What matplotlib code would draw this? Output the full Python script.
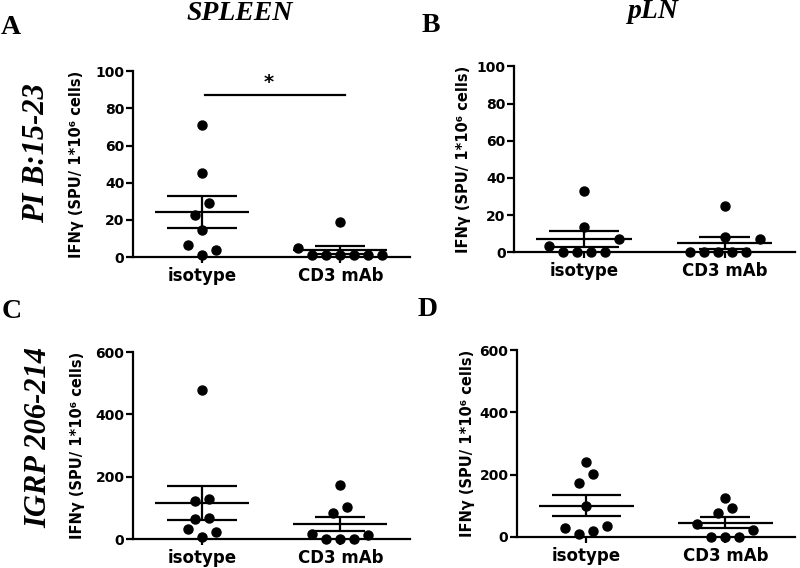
"""
    IFN-gamma ELISPOT scatter plots (mean +/- SEM), spleen vs pLN
"""
import matplotlib
matplotlib.use('Agg')
import matplotlib.pyplot as plt
import numpy as np

groups = ['isotype', 'CD3 mAb']

# PI B:15-23
spleen_pi_iso = [71, 45, 29, 22.5, 14.5, 6.5, 4, 1]
spleen_pi_cd3 = [19, 5, 1, 1, 1, 1, 1, 1]
pln_pi_iso = [33, 13.5, 7, 3.5, 0, 0, 0, 0]
pln_pi_cd3 = [25, 8, 7, 0, 0, 0, 0, 0]

# IGRP 206-214
spleen_igrp_iso = [478, 127, 122, 69, 65, 33, 24, 6]
spleen_igrp_cd3 = [175, 103, 85, 17, 14, 0, 0, 0]
pln_igrp_iso = [241, 202, 174, 99, 34, 30, 19, 9]
pln_igrp_cd3 = [125, 94, 78, 43, 24, 0, 0, 0]

pi_ticks = [0, 20, 40, 60, 80, 100]
igrp_ticks = [0, 200, 400, 600]

ylabel = 'IFNγ (SPU/ 1*10⁶ cells)'

plt.rcParams['font.family'] = ['DejaVu Sans']
plt.rcParams['font.weight'] = 'bold'

W, H = 800, 568
fig = plt.figure(figsize=(W / 100, H / 100), dpi=100)


def swarm_offsets(vals, thr, step):
    # Prism-like: bin points into rows, spread each row symmetrically
    vals = np.asarray(vals, float)
    order = np.argsort(vals, kind='stable')
    offs = np.zeros(len(vals))
    rows = []
    for i in order:
        if rows and vals[i] - vals[rows[-1][0]] < thr:
            rows[-1].append(i)
        else:
            rows.append([i])
    for row in rows:
        n = len(row)
        if n % 2:
            slots = [0] + [s for k in range(1, n // 2 + 1) for s in (k, -k)]
        else:
            slots = [s for k in range(n // 2) for s in (-(k + 0.5), k + 0.5)]
        for i, s in zip(row, slots):
            offs[i] = s * step
    return offs


def dot_plot(rect, data, ticks, label_x, cap_w=(0.25, 0.18)):
    ax = fig.add_axes(rect)
    ymax = ticks[-1]
    ax.set_xlim(-0.5, 1.5)
    ax.set_ylim(0, ymax)
    w_px = rect[2] * W
    h_px = rect[3] * H
    thr = 14 / (h_px / ymax)
    step = 14 / (w_px / 2.0)
    for i, vals in enumerate(data):
        vals = np.asarray(vals, float)
        xs = i + swarm_offsets(vals, thr, step)
        ax.plot(xs, vals, 'o', color='black', ms=6.5, clip_on=False, zorder=3)
        m = vals.mean()
        sem = vals.std(ddof=1) / np.sqrt(len(vals))
        ax.hlines(m, i - 0.34, i + 0.34, color='black', lw=1.6, zorder=4)
        ax.hlines([m - sem, m + sem], i - cap_w[i], i + cap_w[i],
                  color='black', lw=1.6, zorder=4)
        ax.vlines(i, m - sem, m + sem, color='black', lw=1.6, zorder=4)
    for s in ['top', 'right']:
        ax.spines[s].set_visible(False)
    for s in ['left', 'bottom']:
        ax.spines[s].set_linewidth(1.6)
    ax.set_yticks(ticks)
    ax.set_xticks([0, 1])
    ax.set_xticklabels(groups, fontsize=12, fontweight='bold')
    ax.tick_params(axis='y', length=5, width=1.6, labelsize=10, pad=1)
    ax.tick_params(axis='x', length=4, width=1.6, pad=3)
    ax.set_ylabel(ylabel, fontsize=10.5, fontweight='bold', va='center')
    ax.yaxis.set_label_coords(label_x, 0.5)
    return ax


axA = dot_plot([0.166, 0.5475, 0.346, 0.327], [spleen_pi_iso, spleen_pi_cd3],
               pi_ticks, -0.202)
axB = dot_plot([0.6425, 0.556, 0.351, 0.327], [pln_pi_iso, pln_pi_cd3],
               pi_ticks, -0.18)
axC = dot_plot([0.166, 0.051, 0.346, 0.329], [spleen_igrp_iso, spleen_igrp_cd3],
               igrp_ticks, -0.199)
axD = dot_plot([0.646, 0.0546, 0.3475, 0.329], [pln_igrp_iso, pln_igrp_cd3],
               igrp_ticks, -0.178)

# significance bar in A
axA.plot([0.02, 1.03], [87.5, 87.5], color='black', lw=1.6)
axA.text(0.48, 94, '*', ha='center', va='center', fontsize=14, fontweight='bold')

serif = 'Liberation Serif'
fig.text(240 / W, 1 - 13 / H, 'SPLEEN', ha='center', va='center', fontsize=20,
         family=serif, weight='bold', style='italic')
fig.text(653 / W, 1 - 12 / H, 'pLN', ha='center', va='center', fontsize=20,
         family=serif, weight='bold', style='italic')
for x, y, t in [(11, 27, 'A'), (431, 25, 'B'), (12, 311, 'C'), (428, 310, 'D')]:
    fig.text(x / W, 1 - y / H, t, ha='center', va='center', fontsize=20,
             family=serif, weight='bold')
fig.text(37 / W, 1 - 153 / H, 'PI B:15-23', ha='center', va='center',
         rotation=90, fontsize=22, family=serif, weight='bold', style='italic')
fig.text(39 / W, 1 - 438 / H, 'IGRP 206-214', ha='center', va='center',
         rotation=90, fontsize=22, family=serif, weight='bold', style='italic')

fig.savefig('out.png', dpi=100)
